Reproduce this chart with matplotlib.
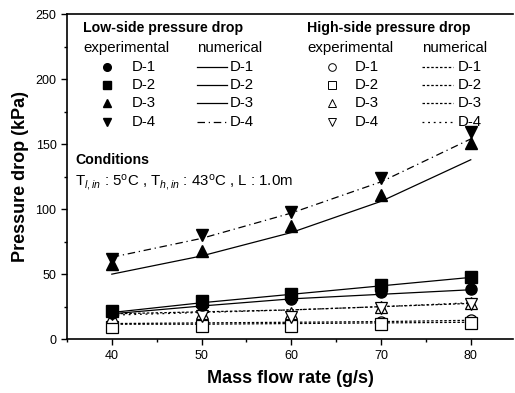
import matplotlib
matplotlib.use('Agg')
import matplotlib.pyplot as plt
from matplotlib.ticker import MultipleLocator

plt.rcParams['font.family'] = ['Liberation Sans', 'DejaVu Sans']
plt.rcParams['mathtext.fontset'] = 'custom'
plt.rcParams['mathtext.rm'] = 'Liberation Sans'
plt.rcParams['mathtext.it'] = 'Liberation Sans:italic'

# mass flow rate (g/s)
flow = [40, 50, 60, 70, 80]

# low-side pressure drop, experimental (kPa)
low_exp_d1 = [20, 26, 31, 36, 38.5]
low_exp_d2 = [21.5, 29, 35, 41.5, 48]
low_exp_d3 = [58, 68, 87, 111, 151]
low_exp_d4 = [62, 80, 98, 124, 159]
# low-side pressure drop, numerical (kPa)
low_num_d1 = [19.5, 25.5, 31, 34.5, 38]
low_num_d2 = [20.5, 28, 34.5, 41, 47.5]
low_num_d3 = [50, 64, 82, 106, 138]
low_num_d4 = [63, 77.5, 97, 121, 154]

# high-side pressure drop, experimental (kPa)
high_exp_d1 = [10.5, 11, 11, 13.5, 14.5]
high_exp_d2 = [9.5, 10, 10, 12, 12.5]
high_exp_d3 = [17, 20, 20, 25, 28]
high_exp_d4 = [19, 17.5, 17, 24, 27]
# high-side pressure drop, numerical (kPa)
high_num_d1 = [12, 12.5, 13, 13.5, 14.5]
high_num_d2 = [11.5, 11.5, 12, 12.5, 13]
high_num_d3 = [19.5, 21, 22.5, 25, 27.5]
high_num_d4 = [18.5, 20.5, 22.5, 25, 28]

labels = ['D-1', 'D-2', 'D-3', 'D-4']

fig = plt.figure(figsize=(5.15, 3.93), dpi=100)
ax = fig.add_axes([0.130, 0.137, 0.866, 0.827])

ms = 8
lw = 0.9
# numerical lines
low_styles = ['-', '-', '-', (0, (6, 3, 1, 3))]
high_styles = [(0, (2, 1.5)), (0, (2, 1.5)), (0, (2, 1.5)), (0, (1.5, 3))]
for vals, ls in zip([low_num_d1, low_num_d2, low_num_d3, low_num_d4], low_styles):
    ax.plot(flow, vals, color='black', lw=lw, ls=ls)
for vals, ls in zip([high_num_d1, high_num_d2, high_num_d3, high_num_d4], high_styles):
    ax.plot(flow, vals, color='black', lw=lw, ls=ls)

low_markers = ['o', 's', '^', 'v']
for vals, m in zip([high_exp_d1, high_exp_d2, high_exp_d3, high_exp_d4], low_markers):
    ax.plot(flow, vals, ls='none', marker=m, ms=ms, mfc='white', mec='black', mew=0.9)
for vals, m in zip([low_exp_d1, low_exp_d2, low_exp_d3, low_exp_d4], low_markers):
    ax.plot(flow, vals, ls='none', marker=m, ms=ms, color='black')

ax.set_xlim(35, 84.7)
ax.set_ylim(0, 250)
ax.xaxis.set_major_locator(MultipleLocator(10))
ax.xaxis.set_minor_locator(MultipleLocator(5))
ax.yaxis.set_major_locator(MultipleLocator(50))
ax.yaxis.set_minor_locator(MultipleLocator(25))
ax.tick_params(which='both', direction='out', labelsize=9, width=1)
ax.tick_params(which='major', length=4)
ax.tick_params(which='minor', length=2.5)
for s in ax.spines.values():
    s.set_linewidth(1.2)
ax.spines['right'].set_visible(False)

ax.set_xlabel('Mass flow rate (g/s)', fontsize=13, fontweight='bold', labelpad=6)
ax.set_ylabel('Pressure drop (kPa)', fontsize=13, fontweight='bold', labelpad=5)

# hand-built legend
tr = ax.transAxes
fs = 10.8
fb = 10.2
rows = [0.837, 0.782, 0.726, 0.668]
ax.text(0.036, 0.957, 'Low-side pressure drop', transform=tr, fontsize=fb, fontweight='bold', va='center')
ax.text(0.036, 0.895, 'experimental', transform=tr, fontsize=fs, va='center')
ax.text(0.291, 0.895, 'numerical', transform=tr, fontsize=fs, va='center')
ax.text(0.538, 0.957, 'High-side pressure drop', transform=tr, fontsize=fb, fontweight='bold', va='center')
ax.text(0.538, 0.895, 'experimental', transform=tr, fontsize=fs, va='center')
ax.text(0.796, 0.895, 'numerical', transform=tr, fontsize=fs, va='center')

for i, y in enumerate(rows):
    ax.plot([0.090], [y], transform=tr, marker=low_markers[i], ms=5.5, color='black')
    ax.text(0.146, y, labels[i], transform=tr, fontsize=fs, va='center')
    ax.plot([0.291, 0.359], [y, y], transform=tr, color='black', lw=lw, ls=low_styles[i])
    ax.text(0.364, y, labels[i], transform=tr, fontsize=fs, va='center')
    ax.plot([0.594], [y], transform=tr, marker=low_markers[i], ms=5.5, mfc='white', mec='black', mew=0.7)
    ax.text(0.646, y, labels[i], transform=tr, fontsize=fs, va='center')
    ax.plot([0.796, 0.866], [y, y], transform=tr, color='black', lw=lw, ls=high_styles[i])
    ax.text(0.877, y, labels[i], transform=tr, fontsize=fs, va='center')

ax.text(0.018, 0.551, 'Conditions', transform=tr, fontsize=fb, fontweight='bold', va='center')
ax.text(0.018, 0.483, r'T$_{\mathit{l,in}}$ : 5$^{\rm o}$C , T$_{\mathit{h,in}}$ : 43$^{\rm o}$C , L : 1.0m',
        transform=tr, fontsize=fs, va='center')

fig.savefig('out.png', dpi=100)
